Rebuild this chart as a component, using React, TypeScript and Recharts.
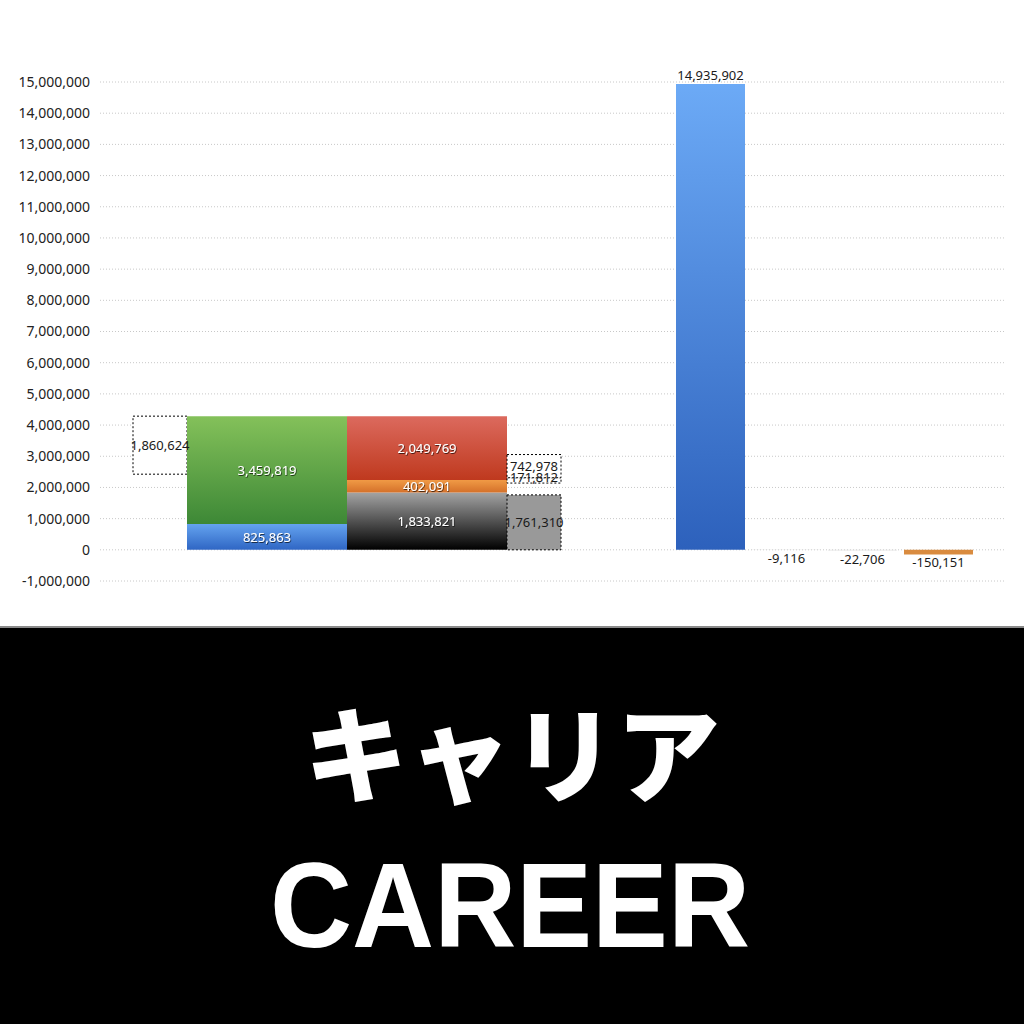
import React from "react";
import {
  ComposedChart,
  Bar,
  XAxis,
  YAxis,
  CartesianGrid,
  LabelList,
  Cell,
} from "recharts";

// left block: one category, four stacks side by side
const breakdownCategories = ["内訳"];
const boxStack = [2425058, 1860624]; // hidden offset, dotted box
const incomeStack = [825863, 3459819]; // blue, green
const costStack = [1833821, 402091, 2049769]; // black, orange, red
const sideStack = [1761310, 378690, 171812, 742978]; // grey, hidden gap, small box, box

// right block: totals and differences
const totalCategories = ["合計", "差額1", "差額2", "差額3"];
const totalValues = [14935902, -9116, -22706, -150151];

const yTicks = [
  -1000000, 0, 1000000, 2000000, 3000000, 4000000, 5000000, 6000000, 7000000,
  8000000, 9000000, 10000000, 11000000, 12000000, 13000000, 14000000, 15000000,
];

const breakdownData = breakdownCategories.map((k) => ({
  k,
  a0: boxStack[0],
  a1: boxStack[1],
  b0: incomeStack[0],
  b1: incomeStack[1],
  c0: costStack[0],
  c1: costStack[1],
  c2: costStack[2],
  d0: sideStack[0],
  d1: sideStack[1],
  d2: sideStack[2],
  d3: sideStack[3],
}));

const totalData = totalCategories.map((k, i) => ({ k, v: totalValues[i] }));
const totalFills = ["url(#t2Blue)", "#e4e4e4", "#e4e4e4", "#d98b3f"];

const FONT = "'Noto Sans', 'Liberation Sans', sans-serif";
const W = 1024;
const H = 626;
const margin = { top: 82, right: 19, bottom: 45, left: 0 };
const domain: [number, number] = [-1000000, 15000000];

const fmt = (v: number) => Number(v).toLocaleString("en-US");

const centerLabel = (light: boolean, dy = 0) => (props: any) => {
  const { x, y, width, height, value } = props;
  if (value == null) return null;
  const top = Math.min(y, y + height);
  return (
    <text
      x={x + width / 2}
      y={top + Math.abs(height) / 2 + dy}
      textAnchor="middle"
      dominantBaseline="central"
      fontSize={13}
      fontFamily={FONT}
      fill={light ? "#ffffff" : "#1a1a1a"}
      filter={light ? "url(#txtShadow)" : undefined}
    >
      {fmt(value)}
    </text>
  );
};

const outsideLabel = (props: any) => {
  const { x, y, width, height, value } = props;
  if (value == null) return null;
  const top = Math.min(y, y + height);
  const bottom = Math.max(y, y + height);
  return (
    <text
      x={x + width / 2}
      y={value >= 0 ? top - 9 : bottom + 8}
      textAnchor="middle"
      dominantBaseline="central"
      fontSize={13}
      fontFamily={FONT}
      fill="#1a1a1a"
    >
      {fmt(value)}
    </text>
  );
};

const dotted = { stroke: "#000", strokeWidth: 1, strokeDasharray: "2 2" };

function BreakdownChart() {
  return (
    <ComposedChart
      width={W}
      height={H}
      data={breakdownData}
      margin={margin}
      barGap={0}
      style={{ fontFamily: FONT }}
    >
      <defs>
        <linearGradient id="gBlue" x1="0" y1="0" x2="0" y2="1">
          <stop offset="0%" stopColor="#64a3ef" />
          <stop offset="100%" stopColor="#2f66c4" />
        </linearGradient>
        <linearGradient id="gGreen" x1="0" y1="0" x2="0" y2="1">
          <stop offset="0%" stopColor="#84c15a" />
          <stop offset="100%" stopColor="#3d8836" />
        </linearGradient>
        <linearGradient id="gRed" x1="0" y1="0" x2="0" y2="1">
          <stop offset="0%" stopColor="#dc6a5e" />
          <stop offset="100%" stopColor="#bf391e" />
        </linearGradient>
        <linearGradient id="gOrange" x1="0" y1="0" x2="0" y2="1">
          <stop offset="0%" stopColor="#f09a45" />
          <stop offset="100%" stopColor="#d4702a" />
        </linearGradient>
        <linearGradient id="gBlack" x1="0" y1="0" x2="0" y2="1">
          <stop offset="0%" stopColor="#a3a3a3" />
          <stop offset="100%" stopColor="#000000" />
        </linearGradient>
        <filter id="txtShadow" x="-20%" y="-50%" width="140%" height="200%">
          <feDropShadow dx="0.7" dy="0.9" stdDeviation="0.5" floodColor="#000" floodOpacity="0.7" />
        </filter>
      </defs>
      <CartesianGrid
        xAxisId="a"
        vertical={false}
        stroke="#c8c8c8"
        strokeDasharray="1 2"
      />
      <XAxis xAxisId="a" dataKey="k" hide padding={{ left: 0, right: 411 }} />
      <YAxis
        domain={domain}
        ticks={yTicks}
        interval={0}
        width={100}
        axisLine={false}
        tickLine={false}
        tickSize={0}
        tickMargin={10}
        tickFormatter={fmt}
        tick={{ fontSize: 14, fill: "#222", fontFamily: FONT }}
      />

      <Bar xAxisId="a" dataKey="a0" stackId="A" barSize={54} fill="transparent" isAnimationActive={false} />
      <Bar xAxisId="a" dataKey="a1" stackId="A" barSize={54} fill="#fff" {...dotted} isAnimationActive={false}>
        <LabelList dataKey="a1" content={centerLabel(false)} />
      </Bar>

      <Bar xAxisId="a" dataKey="b0" stackId="B" barSize={160} fill="url(#gBlue)" isAnimationActive={false}>
        <LabelList dataKey="b0" content={centerLabel(true)} />
      </Bar>
      <Bar xAxisId="a" dataKey="b1" stackId="B" barSize={160} fill="url(#gGreen)" isAnimationActive={false}>
        <LabelList dataKey="b1" content={centerLabel(true)} />
      </Bar>

      <Bar xAxisId="a" dataKey="c0" stackId="C" barSize={160} fill="url(#gBlack)" isAnimationActive={false}>
        <LabelList dataKey="c0" content={centerLabel(true)} />
      </Bar>
      <Bar xAxisId="a" dataKey="c1" stackId="C" barSize={160} fill="url(#gOrange)" isAnimationActive={false}>
        <LabelList dataKey="c1" content={centerLabel(true)} />
      </Bar>
      <Bar xAxisId="a" dataKey="c2" stackId="C" barSize={160} fill="url(#gRed)" isAnimationActive={false}>
        <LabelList dataKey="c2" content={centerLabel(true)} />
      </Bar>

      <Bar xAxisId="a" dataKey="d0" stackId="D" barSize={54} fill="#999" {...dotted} isAnimationActive={false}>
        <LabelList dataKey="d0" content={centerLabel(false)} />
      </Bar>
      <Bar xAxisId="a" dataKey="d1" stackId="D" barSize={54} fill="transparent" isAnimationActive={false} />
      <Bar xAxisId="a" dataKey="d2" stackId="D" barSize={54} fill="#fff" {...dotted} isAnimationActive={false}>
        <LabelList dataKey="d2" content={centerLabel(false, -3)} />
      </Bar>
      <Bar xAxisId="a" dataKey="d3" stackId="D" barSize={54} fill="#fff" {...dotted} isAnimationActive={false}>
        <LabelList dataKey="d3" content={centerLabel(false)} />
      </Bar>
    </ComposedChart>
  );
}

function TotalsChart() {
  return (
    <ComposedChart
      width={W}
      height={H}
      data={totalData}
      margin={{ ...margin, left: 100 }}
      style={{ fontFamily: FONT }}
    >
      <defs>
        <linearGradient id="t2Blue" x1="0" y1="0" x2="0" y2="1">
          <stop offset="0%" stopColor="#6caaf6" />
          <stop offset="100%" stopColor="#2d61bc" />
        </linearGradient>
      </defs>
      <XAxis dataKey="k" hide padding={{ left: 572, right: 29 }} />
      <YAxis domain={domain} ticks={yTicks} hide />
      <Bar dataKey="v" barSize={69} isAnimationActive={false}>
        {totalData.map((d, i) => (
          <Cell key={d.k} fill={totalFills[i]} />
        ))}
        <LabelList dataKey="v" content={outsideLabel} />
      </Bar>
    </ComposedChart>
  );
}

export default function App() {
  return (
    <div
      style={{
        position: "absolute",
        left: 0,
        top: 0,
        width: 1024,
        height: 1024,
        background: "#fff",
        overflow: "hidden",
      }}
    >
      <div style={{ position: "absolute", left: 0, top: 0 }}>
        <BreakdownChart />
      </div>
      <div style={{ position: "absolute", left: 0, top: 0 }}>
        <TotalsChart />
      </div>
      <div
        style={{
          position: "absolute",
          left: 0,
          top: 626,
          width: 1024,
          height: 2,
          background: "#8a8a8a",
        }}
      />
      <svg
        style={{ position: "absolute", left: 0, top: 628, display: "block" }}
        width={1024}
        height={396}
      >
        <rect width={1024} height={396} fill="#000" />
        <text
          x={512}
          y={167}
          textAnchor="middle"
          fontSize={104}
          fontWeight={900}
          fontFamily="'Noto Sans CJK JP', sans-serif"
          fill="#fff"
        >
          キャリア
        </text>
        <text
          x={510}
          y={319}
          textAnchor="middle"
          fontSize={121}
          fontWeight={700}
          fontFamily="'Liberation Sans', Arial, sans-serif"
          textLength={480}
          lengthAdjust="spacingAndGlyphs"
          fill="#fff"
        >
          CAREER
        </text>
      </svg>
    </div>
  );
}
